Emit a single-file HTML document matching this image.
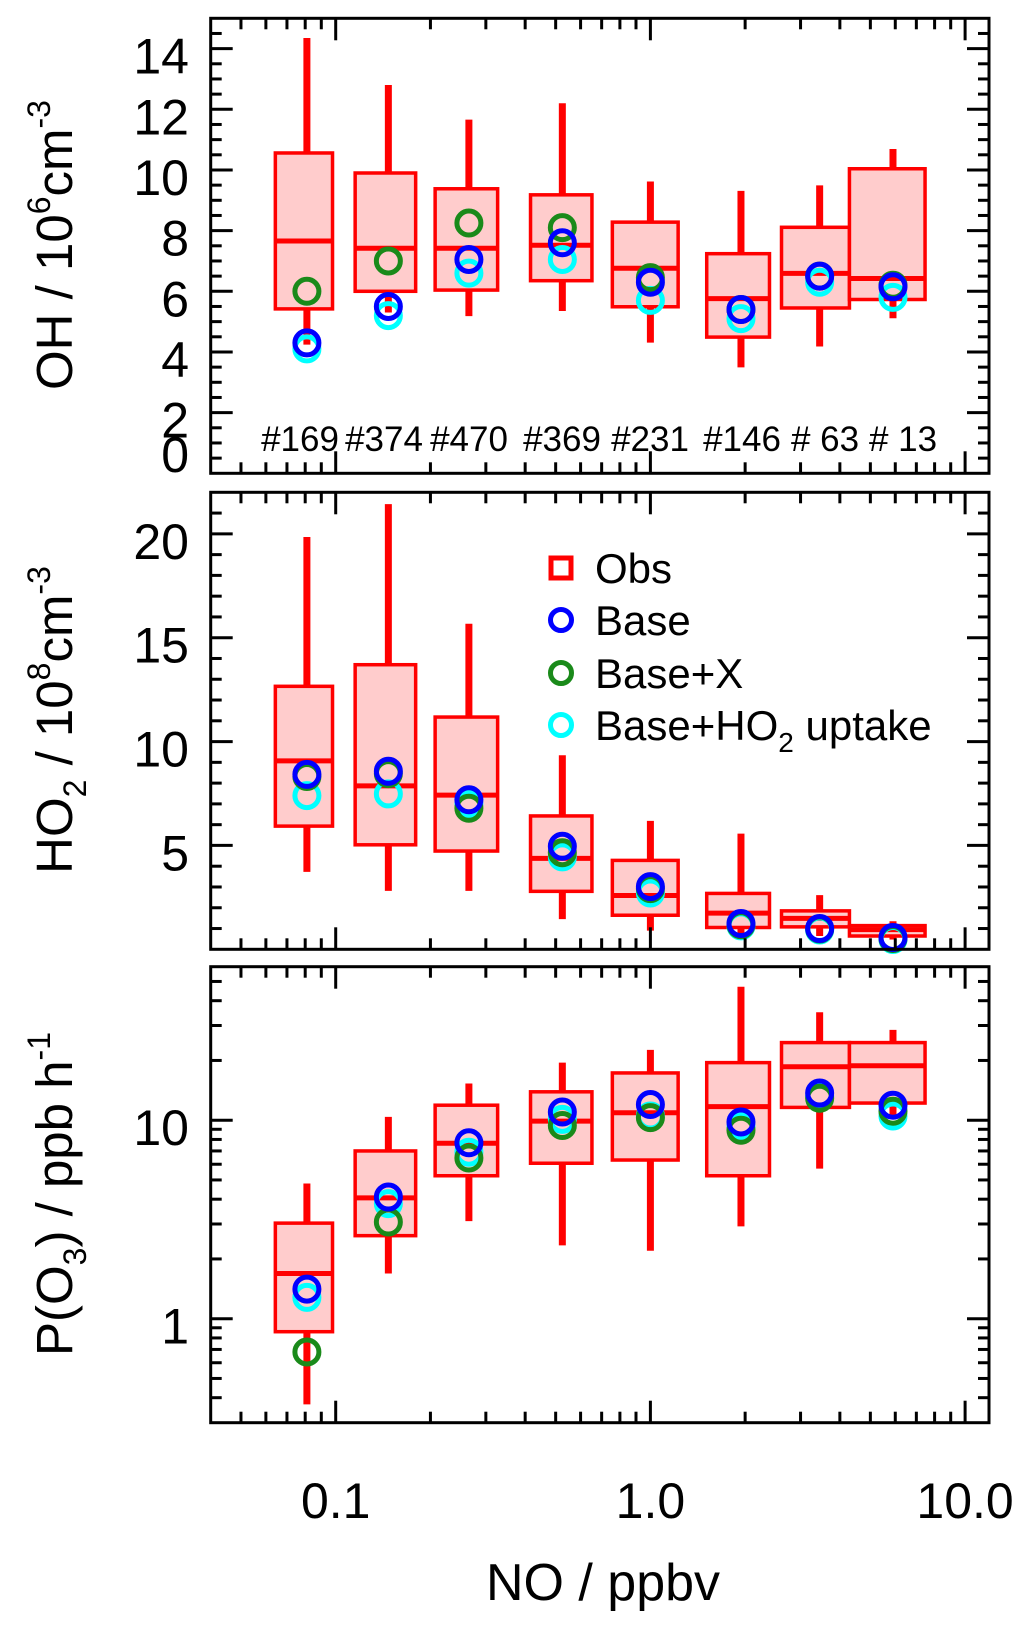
<!DOCTYPE html>
<html><head><meta charset="utf-8">
<style>
html,body{margin:0;padding:0;background:#fff;}
svg{display:block;font-family:"Liberation Sans",Arial,sans-serif;}
</style></head>
<body>
<svg id="chart" width="1033" height="1630" viewBox="0 0 1033 1630" xmlns="http://www.w3.org/2000/svg"></svg>
<script>
// ---- data ----
const noCenters = [0.081, 0.147, 0.265, 0.525, 1.0, 1.94, 3.45, 5.9];
const binLo = [0.0643, 0.1153, 0.207, 0.416, 0.757, 1.51, 2.61, 4.29];
const binHi = [0.0977, 0.1795, 0.327, 0.652, 1.225, 2.39, 4.29, 7.46];
const counts = ["#169", "#374", "#470", "#369", "#231", "#146", "# 63", "# 13"];
const countX = [300, 384, 469, 562, 650, 742, 825, 903];

// OH (10^6 cm-3)
const ohWhiskLo = [4.24, 5.3, 5.18, 5.35, 4.31, 3.49, 4.18, 5.11];
const ohQ1 = [5.42, 6.0, 6.04, 6.35, 5.49, 4.49, 5.45, 5.73];
const ohMed = [7.66, 7.42, 7.42, 7.52, 6.76, 5.76, 6.59, 6.42];
const ohQ3 = [10.56, 9.9, 9.38, 9.18, 8.28, 7.24, 8.11, 10.04];
const ohWhiskHi = [14.35, 12.8, 11.66, 12.2, 9.62, 9.31, 9.49, 10.69];
const ohBase = [4.3, 5.5, 7.05, 7.6, 6.3, 5.4, 6.5, 6.15];
const ohBaseX = [6.0, 7.0, 8.25, 8.1, 6.45, 5.4, 6.5, 6.2];
const ohUptake = [4.1, 5.2, 6.6, 7.05, 5.7, 5.1, 6.3, 5.8];

// HO2 (10^8 cm-3)
const ho2WhiskLo = [3.73, 2.81, 2.81, 1.45, 0.9, 0.57, 0.64, 0.47];
const ho2Q1 = [5.93, 5.03, 4.73, 2.79, 1.64, 1.05, 1.08, 0.64];
const ho2Med = [9.07, 7.87, 7.42, 4.38, 2.59, 1.74, 1.49, 0.95];
const ho2Q3 = [12.66, 13.70, 11.18, 6.42, 4.28, 2.69, 1.85, 1.14];
const ho2WhiskHi = [19.85, 21.43, 15.67, 9.34, 6.18, 5.57, 2.61, 1.35];
const ho2Base = [8.42, 8.57, 7.2, 4.96, 3.02, 1.24, 1.0, 0.57];
const ho2BaseX = [8.32, 8.46, 6.79, 4.65, 2.92, 1.18, 0.98, 0.52];
const ho2Uptake = [7.4, 7.48, 7.0, 4.45, 2.71, 1.13, 0.93, 0.47];

// P(O3) (ppb h-1)
const po3WhiskLo = [0.37, 1.69, 3.1, 2.34, 2.2, 2.92, 5.7, 10.5];
const po3Q1 = [0.86, 2.62, 5.25, 6.07, 6.3, 5.25, 11.6, 12.2];
const po3Med = [1.69, 4.06, 7.65, 9.9, 10.9, 11.7, 18.6, 18.8];
const po3Q3 = [3.03, 7.0, 11.9, 13.9, 17.3, 19.5, 24.6, 24.6];
const po3WhiskHi = [4.8, 10.4, 15.3, 19.5, 22.6, 47, 35, 28.5];
const po3Base = [1.41, 4.1, 7.7, 11.0, 12.0, 9.8, 13.7, 11.9];
const po3BaseX = [0.68, 3.07, 6.45, 9.4, 10.3, 8.9, 12.9, 11.1];
const po3Uptake = [1.28, 3.8, 6.9, 10.1, 10.5, 9.3, 13.2, 10.5];

const xTickLabels = ["0.1", "1.0", "10.0"];
const xTickValues = [0.1, 1, 10];
const ohTicks = [0, 2, 4, 6, 8, 10, 12, 14];
const ho2Ticks = [5, 10, 15, 20];
const po3Ticks = [1, 10];

// ---- scales ----
const NS = "http://www.w3.org/2000/svg";
const svg = document.getElementById("chart");
const X0 = 210.7, X1 = 989;
function xs(v){ return 335.7 + (Math.log10(v) + 1) * 314.7; }
const P1 = {top:18.3, bot:473.3, min:0, max:15};
const P2 = {top:492.3, bot:949.3, min:0, max:22};
const P3 = {top:966.7, bot:1422.7};
function y1(v){ return P1.bot - (v - P1.min) / (P1.max - P1.min) * (P1.bot - P1.top); }
function y2(v){ return P2.bot - (v - P2.min) / (P2.max - P2.min) * (P2.bot - P2.top); }
function y3(v){ return 1318.7 - Math.log10(v) * 198.5; }

function mk(tag, attrs, parent){
  const e = document.createElementNS(NS, tag);
  for (const k in attrs) e.setAttribute(k, attrs[k]);
  (parent || svg).appendChild(e);
  return e;
}

function frameAndXTicks(P, g){
  const fr = mk("rect", {x:X0, y:P.top, width:X1-X0, height:P.bot-P.top, fill:"none", stroke:"#000", "stroke-width":3}, g);
  
  
  for (let d = -2; d <= 1; d++){
    for (let m = 1; m <= 9; m++){
      const v = m * Math.pow(10, d);
      const x = xs(v);
      if (x < X0 + 2 || x > X1 - 2) continue;
      const len = m === 1 ? 22 : 11;
      mk("line", {x1:x, x2:x, y1:P.bot, y2:P.bot - len, stroke:"#000", "stroke-width":3}, g);
      mk("line", {x1:x, x2:x, y1:P.top, y2:P.top + len, stroke:"#000", "stroke-width":3}, g);
    }
  }
}
function yTick(y, major, g){
  const len = major ? 22 : 11;
  mk("line", {x1:X0, x2:X0 + len, y1:y, y2:y, stroke:"#000", "stroke-width":3}, g);
  mk("line", {x1:X1, x2:X1 - len, y1:y, y2:y, stroke:"#000", "stroke-width":3}, g);
}
function yLabel(y, txt, g){
  const t = mk("text", {x:189, y:y + 8, "font-size":50, "text-anchor":"end", "dominant-baseline":"central"}, g);
  t.textContent = txt;
  
  
}

function drawSeries(g, ys, wLo, q1, med, q3, wHi, base, baseX, upt){
  for (let i = 0; i < noCenters.length; i++){
    const cx = xs(noCenters[i]);
    const bx0 = xs(binLo[i]), bx1 = xs(binHi[i]);
    const wl = mk("line", {x1:cx, x2:cx, y1:ys(wLo[i]), y2:ys(wHi[i]), stroke:"#ff0000", "stroke-width":7}, g);
    
    
    const top = ys(q3[i]), bot = ys(q1[i]);
    const b = mk("rect", {x:bx0, y:top, width:bx1-bx0, height:bot-top, fill:"#ffcccc", stroke:"#ff0000", "stroke-width":3.5}, g);
    
    
    const m = mk("line", {x1:bx0, x2:bx1, y1:ys(med[i]), y2:ys(med[i]), stroke:"#ff0000", "stroke-width":5}, g);
    
    
  }
  const sets = [[upt, "#00ffff", "uptake-point"], [baseX, "#1a8a1a", "base-x-point"], [base, "#0000ff", "base-point"]];
  for (const [arr, col, nm] of sets){
    for (let i = 0; i < noCenters.length; i++){
      const c = mk("circle", {cx:xs(noCenters[i]), cy:ys(arr[i]), r:12, fill:"none", stroke:col, "stroke-width":5}, g);
      
      
    }
  }
}

// ---- panel 1: OH ----
const g1 = mk("g", {});


for (let v = 0.5; v < 15; v += 0.5) yTick(y1(v), v % 2 === 0, g1);
ohTicks.forEach(v => {
  let yy = y1(v);
  if (v === 0) yy = 447;
  yLabel(yy, String(v), g1);
});
drawSeries(g1, y1, ohWhiskLo, ohQ1, ohMed, ohQ3, ohWhiskHi, ohBase, ohBaseX, ohUptake);
counts.forEach((c, i) => {
  const t = mk("text", {x:countX[i], y:451, "font-size":35, "text-anchor":"middle"}, g1);
  t.textContent = c;
  
  
});
frameAndXTicks(P1, g1);

// ---- panel 2: HO2 ----
const g2 = mk("g", {});


for (let v = 1; v < 22; v += 1) yTick(y2(v), v % 5 === 0, g2);
ho2Ticks.forEach(v => yLabel(y2(v), String(v), g2));
drawSeries(g2, y2, ho2WhiskLo, ho2Q1, ho2Med, ho2Q3, ho2WhiskHi, ho2Base, ho2BaseX, ho2Uptake);
frameAndXTicks(P2, g2);

// ---- panel 3: P(O3) ----
const g3 = mk("g", {});


for (let d = -1; d <= 1; d++){
  for (let m = 1; m <= 9; m++){
    const v = m * Math.pow(10, d);
    const y = y3(v);
    if (y < P3.top + 2 || y > P3.bot - 2) continue;
    yTick(y, m === 1, g3);
  }
}
po3Ticks.forEach(v => yLabel(y3(v), String(v), g3));
drawSeries(g3, y3, po3WhiskLo, po3Q1, po3Med, po3Q3, po3WhiskHi, po3Base, po3BaseX, po3Uptake);
frameAndXTicks(P3, g3);

// ---- x tick labels ----
xTickValues.forEach((v, i) => {
  const t = mk("text", {x:xs(v), y:1518, "font-size":50, "text-anchor":"middle"});
  t.textContent = xTickLabels[i];
  
  
});
</script>

<script>
// static labels: axis titles and legend
(function(){
  const NS = "http://www.w3.org/2000/svg";
  const svg = document.getElementById("chart");
  function title(cy, html, name){
    const t = document.createElementNS(NS, "text");
    t.setAttribute("transform", "translate(72," + cy + ") rotate(-90)");
    t.setAttribute("text-anchor", "middle");
    t.setAttribute("font-size", "51");
    t.innerHTML = html;
    
    
    svg.appendChild(t);
  }
  title(245, 'OH / 10<tspan dy="-22" font-size="32">6</tspan><tspan dy="22">cm</tspan><tspan dy="-22" font-size="32">-3</tspan>', 'oh-axis-title');
  title(720, 'HO<tspan dy="14" font-size="32">2</tspan><tspan dy="-14"> / 10</tspan><tspan dy="-22" font-size="32">8</tspan><tspan dy="22">cm</tspan><tspan dy="-22" font-size="32">-3</tspan>', 'ho2-axis-title');
  title(1194, 'P(O<tspan dy="14" font-size="32">3</tspan><tspan dy="-14">) / ppb h</tspan><tspan dy="-22" font-size="32">-1</tspan>', 'po3-axis-title');

  const xt = document.createElementNS(NS, "text");
  xt.setAttribute("x", "603"); xt.setAttribute("y", "1600");
  xt.setAttribute("text-anchor", "middle"); xt.setAttribute("font-size", "52");
  xt.textContent = "NO / ppbv";
  
  
  svg.appendChild(xt);

  const lg = document.createElementNS(NS, "g");
  
  
  svg.appendChild(lg);
  const sq = document.createElementNS(NS, "rect");
  sq.setAttribute("x", "551"); sq.setAttribute("y", "558"); sq.setAttribute("width", "20"); sq.setAttribute("height", "20");
  sq.setAttribute("fill", "none"); sq.setAttribute("stroke", "#ff0000"); sq.setAttribute("stroke-width", "5");
  
  
  lg.appendChild(sq);
  const items = [[620, "#0000ff"], [673, "#1a8a1a"], [725, "#00ffff"]];
  items.forEach(([cy, col]) => {
    const c = document.createElementNS(NS, "circle");
    c.setAttribute("cx", "561"); c.setAttribute("cy", cy); c.setAttribute("r", "10.5");
    c.setAttribute("fill", "none"); c.setAttribute("stroke", col); c.setAttribute("stroke-width", "5");
    
    
    lg.appendChild(c);
  });
  const labels = [[568, "Obs"], [620, "Base"], [673, "Base+X"], [725, 'Base+HO<tspan dy="12" font-size="28">2</tspan><tspan dy="-12"> uptake</tspan>']];
  labels.forEach(([cy, html]) => {
    const t = document.createElementNS(NS, "text");
    t.setAttribute("x", "595"); t.setAttribute("y", cy + 15);
    t.setAttribute("font-size", "42");
    t.innerHTML = html;
    
    
    lg.appendChild(t);
  });
})();
</script>
</body></html>
